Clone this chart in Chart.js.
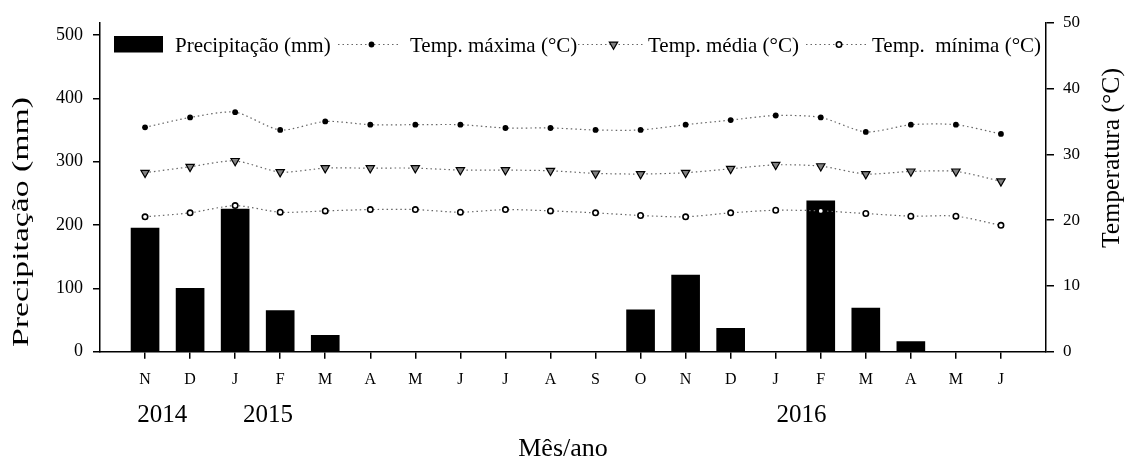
<!DOCTYPE html>
<html>
<head>
<meta charset="utf-8">
<script src="https://cdn.jsdelivr.net/npm/chart.js@4"></script>
<style>
  html, body { margin: 0; padding: 0; background: #fff; }
</style>
</head>
<body>
<canvas id="chart" width="1125" height="463"></canvas>
<script>
const months = ['N', 'D', 'J', 'F', 'M', 'A', 'M', 'J', 'J', 'A', 'S', 'O', 'N', 'D', 'J', 'F', 'M', 'A', 'M', 'J']
const precip = [195, 100, 225, 65, 26, 0, 0, 0, 0, 0, 0, 66, 121, 37, 0, 238, 69, 16, 0, 0]
const tMax = [34.1, 35.6, 36.4, 33.7, 35.0, 34.5, 34.5, 34.5, 34.0, 34.0, 33.7, 33.7, 34.5, 35.2, 35.9, 35.6, 33.4, 34.5, 34.5, 33.1]
const tMean = [27.2, 28.1, 29.0, 27.3, 27.9, 27.9, 27.9, 27.6, 27.6, 27.5, 27.1, 27.0, 27.2, 27.8, 28.4, 28.2, 27.0, 27.4, 27.4, 25.9]
const tMin = [20.5, 21.1, 22.2, 21.2, 21.4, 21.6, 21.6, 21.2, 21.6, 21.4, 21.1, 20.7, 20.5, 21.1, 21.5, 21.4, 21.0, 20.6, 20.6, 19.2]
const precipTicks = [0, 100, 200, 300, 400, 500]
const tempTicks = [0, 10, 20, 30, 40, 50]
const years = ['2014', '2015', '2016']
const yearAt = [0.38, 2.73, 14.57]

const serif = '"Liberation Serif", "Times New Roman", serif'
// one empty slot on each side, like the original axis
const pad = a => [null, ...a, null]

// legend slots: [marker/line start, marker/line end, text x]
const legendPos = [[114, 163, 175], [338, 401, 410], [578, 645, 648], [806, 868, 872]]

function drawMarker(ctx, ds, x, y) {
  ctx.save()
  ctx.fillStyle = ds.pointBackgroundColor
  ctx.strokeStyle = ds.pointBorderColor
  ctx.lineWidth = ds.pointBorderWidth
  ctx.setLineDash([])
  ctx.beginPath()
  if (ds.pointStyle === 'triangle') {
    const r = ds.pointRadius
    for (let k = 0; k < 3; k++) {
      const a = Math.PI / 2 + k * 2 * Math.PI / 3
      const px = x + r * Math.cos(a), py = y + r * Math.sin(a)
      k ? ctx.lineTo(px, py) : ctx.moveTo(px, py)
    }
    ctx.closePath()
  } else {
    ctx.arc(x, y, ds.pointRadius, 0, Math.PI * 2)
  }
  ctx.fill()
  if (ds.pointBorderWidth) ctx.stroke()
  ctx.restore()
}

function fitText(ctx, text, cx, cy, len, size) {
  ctx.save()
  ctx.translate(cx, cy)
  ctx.rotate(-Math.PI / 2)
  ctx.font = size + 'px ' + serif
  ctx.scale(len / ctx.measureText(text).width, 1)
  ctx.textAlign = 'center'
  ctx.textBaseline = 'middle'
  ctx.fillText(text, 0, 0)
  ctx.restore()
}

const extras = {
  id: 'extras',
  afterDraw(chart) {
    const ctx = chart.ctx
    const xs = chart.scales.x
    ctx.save()
    ctx.fillStyle = '#000'
    ctx.textAlign = 'center'
    ctx.textBaseline = 'middle'
    ctx.font = '25px ' + serif
    years.forEach((y, i) => ctx.fillText(y, xs.getPixelForValue(yearAt[i] + 1), 415))
    ctx.font = '26px ' + serif
    ctx.fillText('Mês/ano', 563, 449)

    fitText(ctx, 'Precipitação (mm)', 22, 222, 250, 24)
    fitText(ctx, 'Temperatura (°C)', 1112, 158, 180, 25)

    // legend
    const y = 44.5
    ctx.textAlign = 'left'
    ctx.textBaseline = 'alphabetic'
    ctx.font = '21px ' + serif
    chart.data.datasets.forEach((ds, i) => {
      const [a, b, tx] = legendPos[i]
      if (ds.type === 'line') {
        ctx.save()
        ctx.strokeStyle = ds.borderColor
        ctx.lineWidth = ds.borderWidth
        ctx.setLineDash(ds.borderDash)
        ctx.beginPath()
        ctx.moveTo(a, y)
        ctx.lineTo(b, y)
        ctx.stroke()
        ctx.restore()
        drawMarker(ctx, ds, (a + b) / 2 + 2, y)
      } else {
        ctx.fillStyle = ds.backgroundColor
        ctx.fillRect(a, 36, b - a, 16.5)
      }
      ctx.fillStyle = '#000'
      ctx.fillText(ds.label, tx, 51.5)
    })
    ctx.restore()
  }
}

const lineBase = {
  type: 'line',
  yAxisID: 'yT',
  borderColor: '#666',
  borderWidth: 1.2,
  borderDash: [1.5, 3],
  tension: 0.25,
  pointBorderColor: '#000',
  order: 1
}

new Chart(document.getElementById('chart'), {
  type: 'bar',
  data: {
    labels: pad(months).map(m => m || ''),
    datasets: [
      {
        label: 'Precipitação (mm)',
        data: pad(precip),
        yAxisID: 'yP',
        backgroundColor: '#000',
        borderWidth: 0,
        barThickness: 28,
        order: 10
      },
      Object.assign({}, lineBase, {
        label: 'Temp. máxima (°C)',
        data: pad(tMax),
        pointStyle: 'circle',
        pointRadius: 2.9,
        pointBackgroundColor: '#000',
        pointBorderWidth: 0
      }),
      Object.assign({}, lineBase, {
        label: 'Temp. média (°C)',
        data: pad(tMean),
        pointStyle: 'triangle',
        rotation: 180,
        pointRadius: 4.8,
        pointBackgroundColor: '#808080',
        pointBorderWidth: 1.2
      }),
      Object.assign({}, lineBase, {
        label: 'Temp.  mínima (°C)',
        data: pad(tMin),
        pointStyle: 'circle',
        pointRadius: 2.7,
        pointBackgroundColor: '#fff',
        pointBorderWidth: 1.6
      })
    ]
  },
  options: {
    responsive: false,
    animation: false,
    layout: { padding: { top: 22.7, left: 0, right: 0, bottom: 0 } },
    plugins: { legend: { display: false }, tooltip: { enabled: false } },
    scales: {
      x: {
        offset: false,
        grid: {
          offset: false,
          drawOnChartArea: false,
          tickLength: 7,
          lineWidth: 1.5,
          color: c => (c.tick && c.tick.label === '') ? 'rgba(0,0,0,0)' : '#000'
        },
        border: { color: '#000', width: 1.5 },
        ticks: { color: '#000', font: { family: serif, size: 16 }, padding: 11, autoSkip: false, maxRotation: 0 },
        afterFit: s => { s.height = 111.3 }
      },
      yP: {
        position: 'left',
        min: 0,
        max: 519.4,
        afterBuildTicks: s => { s.ticks = precipTicks.map(v => ({ value: v })) },
        grid: { drawOnChartArea: false, tickLength: 7, color: '#000', lineWidth: 1.5 },
        border: { color: '#000', width: 1.5 },
        ticks: { color: '#000', font: { family: serif, size: 18 }, padding: 10 },
        afterFit: s => { s.width = 100 }
      },
      yT: {
        position: 'right',
        min: 0,
        max: 50,
        afterBuildTicks: s => { s.ticks = tempTicks.map(v => ({ value: v })) },
        grid: { drawOnChartArea: false, tickLength: 8, color: '#000', lineWidth: 1.5 },
        border: { color: '#000', width: 1.5 },
        ticks: { color: '#000', font: { family: serif, size: 17 }, padding: 9 },
        afterFit: s => { s.width = 79 }
      }
    }
  },
  plugins: [extras]
})
</script>
</body>
</html>
